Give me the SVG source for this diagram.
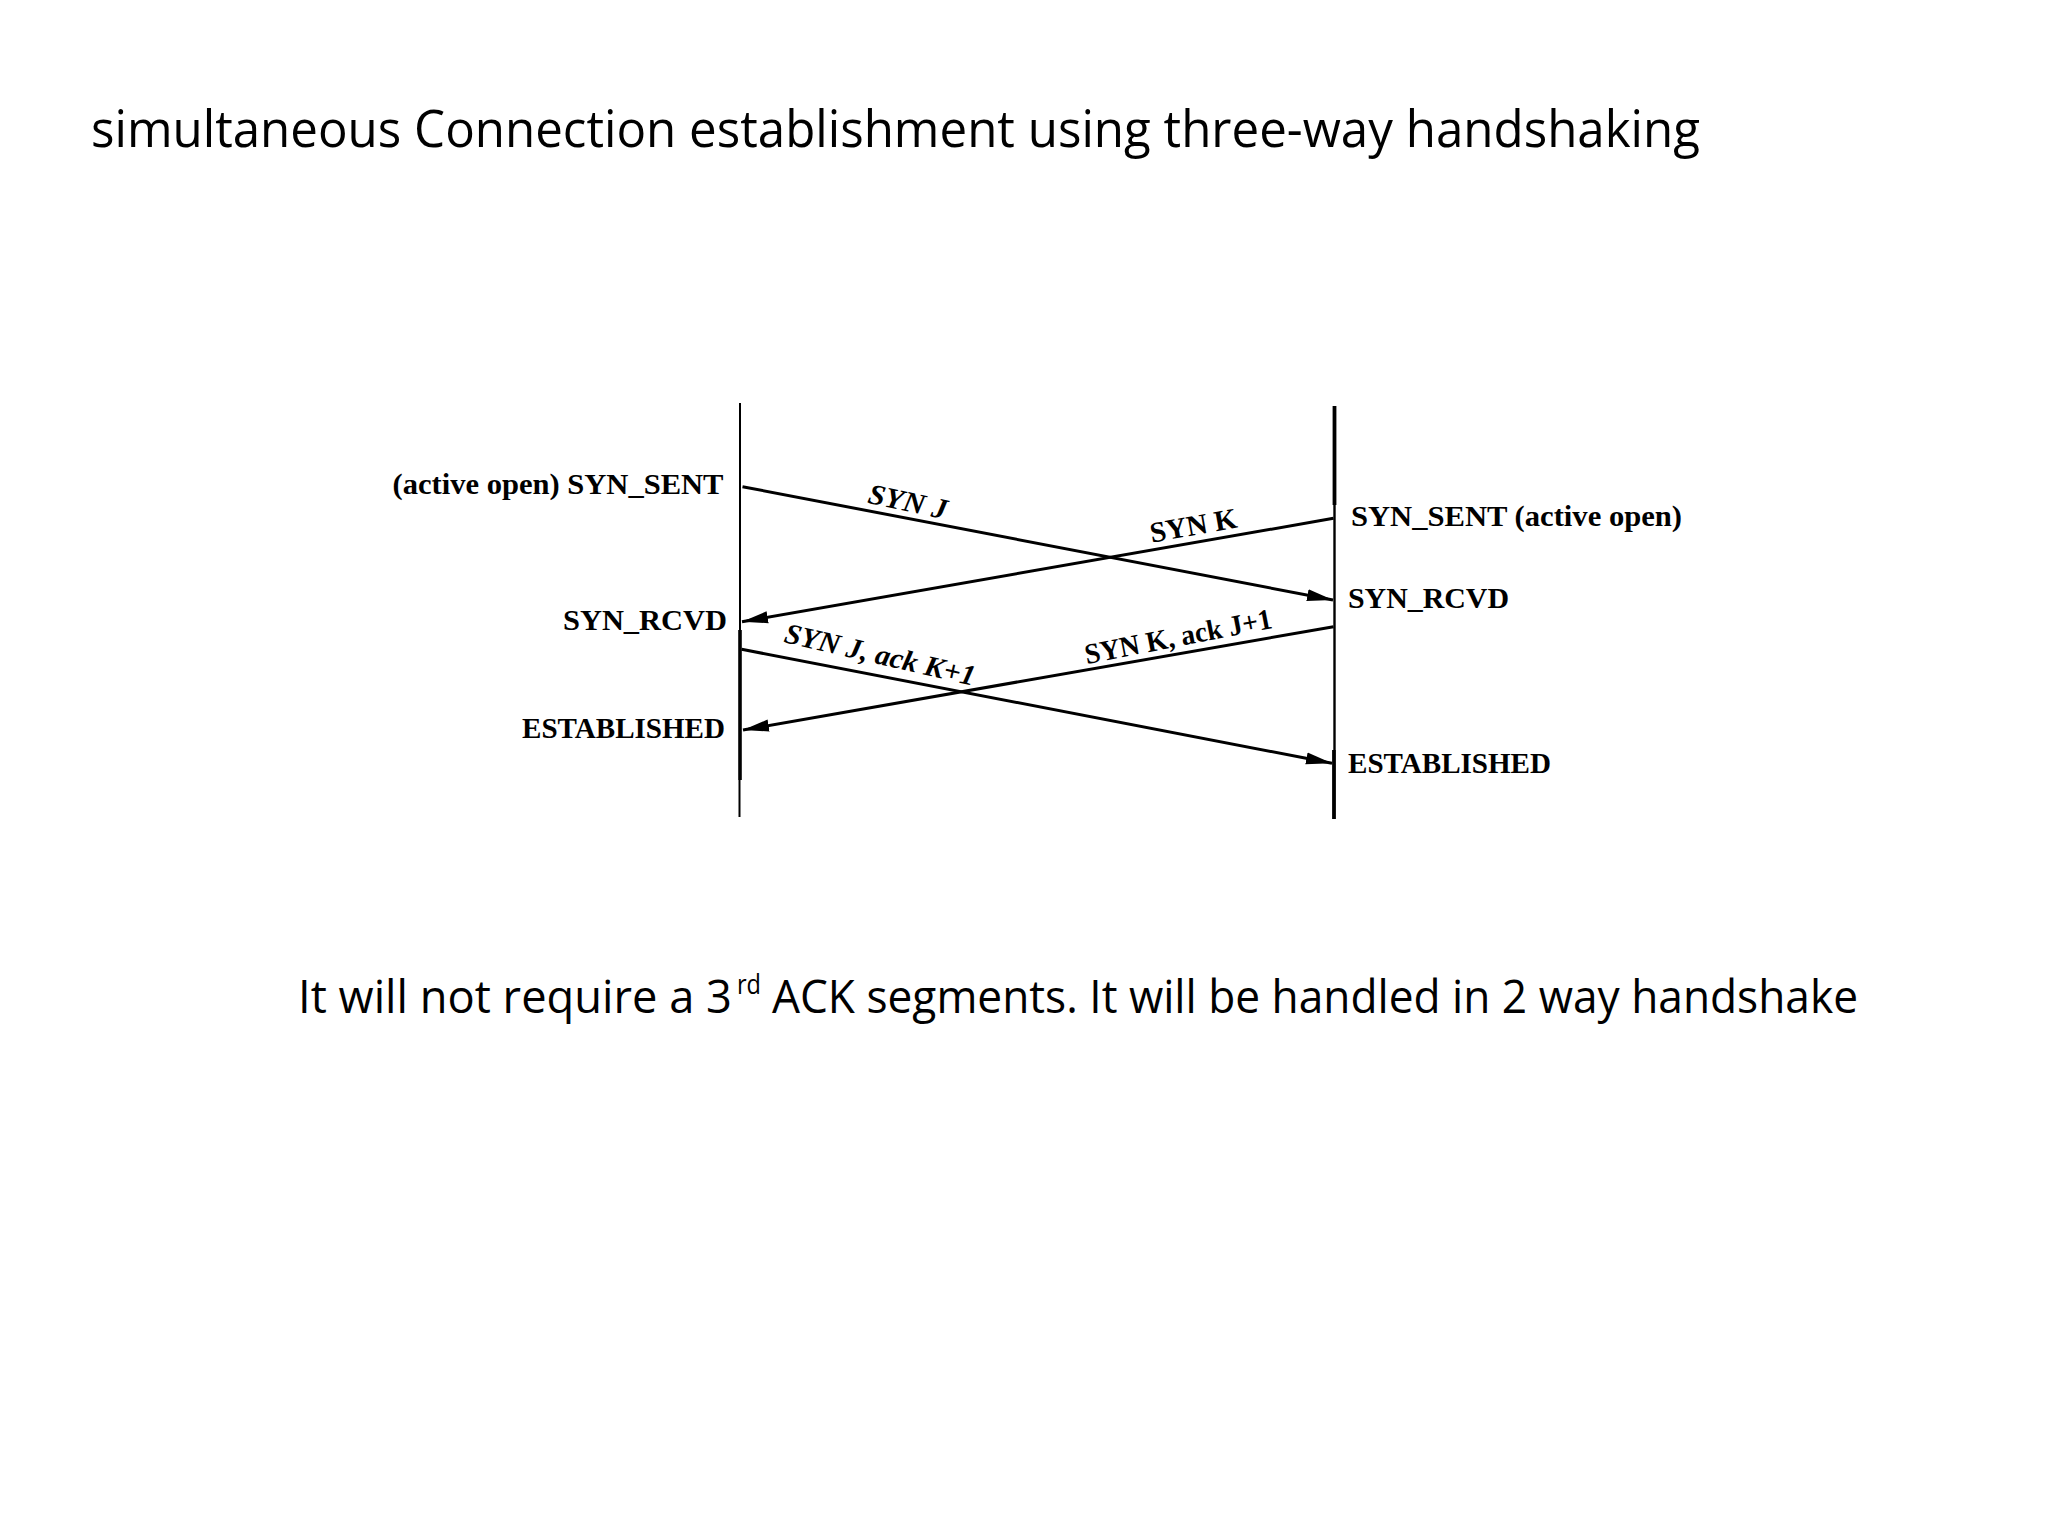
<svg xmlns="http://www.w3.org/2000/svg" width="2048" height="1536" viewBox="0 0 2048 1536">
<style>
.ttl{font-family:"Open Sans","Liberation Sans",sans-serif;font-size:52px;fill:#000}
.note{font-family:"Open Sans","Liberation Sans",sans-serif;font-size:45px;fill:#000}
.sup{font-family:"Open Sans","Liberation Sans",sans-serif;font-size:27px;fill:#000}
.st{font-family:"Liberation Serif","Times New Roman",serif;font-size:30px;font-weight:bold;fill:#000}
.lb{font-family:"Liberation Serif","Times New Roman",serif;font-size:29px;font-weight:bold;fill:#000}
.it{font-style:italic}
.msg{stroke:#000;stroke-width:3;fill:none}
.life{stroke:#000;fill:none}
</style>
<defs>
<marker id="ah" markerUnits="userSpaceOnUse" markerWidth="30" markerHeight="18" refX="26" refY="8" orient="auto">
<path d="M0,2 L26,8 L0,14 Z" fill="#000"/>
</marker>
</defs>
<rect width="2048" height="1536" fill="#fff"/>
<text class="ttl" x="91" y="147" textLength="1609" lengthAdjust="spacingAndGlyphs">simultaneous Connection establishment using three-way handshaking</text>

<g id="lifeline-left">
<line class="life" x1="740" y1="403" x2="740" y2="630" stroke-width="2"/>
<line class="life" x1="740" y1="630" x2="740" y2="780" stroke-width="3.6"/>
<line class="life" x1="739.5" y1="780" x2="739.5" y2="817" stroke-width="2"/>
</g>
<g id="lifeline-right">
<line class="life" x1="1334.5" y1="406" x2="1334.5" y2="505" stroke-width="3.8"/>
<line class="life" x1="1334.5" y1="505" x2="1334.5" y2="750" stroke-width="2.4"/>
<line class="life" x1="1334" y1="750" x2="1334" y2="819" stroke-width="3.8"/>
</g>

<g id="connectors">
<line class="msg" x1="742.5" y1="486.7" x2="1333" y2="600" marker-end="url(#ah)"/>
<line class="msg" x1="1333.5" y1="518.3" x2="742" y2="621.7" marker-end="url(#ah)"/>
<line class="msg" x1="1333.5" y1="626.7" x2="743" y2="730" marker-end="url(#ah)"/>
<line class="msg" x1="741.6" y1="649.3" x2="1332" y2="763.3" marker-end="url(#ah)"/>
</g>

<g id="msg-labels">
<text class="lb it" x="906" y="511" text-anchor="middle" transform="rotate(12 906 511)" textLength="80" lengthAdjust="spacingAndGlyphs">SYN J</text>
<text class="lb" x="1195" y="535" text-anchor="middle" transform="rotate(-10 1195 535)" textLength="88" lengthAdjust="spacingAndGlyphs">SYN K</text>
<text class="lb" x="1180" y="646" text-anchor="middle" transform="rotate(-11 1180 646)" textLength="190" lengthAdjust="spacingAndGlyphs">SYN K, ack J+1</text>
<text class="lb it" x="878" y="664" text-anchor="middle" transform="rotate(13 878 664)" textLength="195" lengthAdjust="spacingAndGlyphs">SYN J, ack K+1</text>
</g>

<g id="left-states">
<text class="st" x="392.5" y="494" textLength="331" lengthAdjust="spacingAndGlyphs">(active open) SYN_SENT</text>
<text class="st" x="563" y="630" textLength="164" lengthAdjust="spacingAndGlyphs">SYN_RCVD</text>
<text class="st" x="522" y="738" textLength="203" lengthAdjust="spacingAndGlyphs">ESTABLISHED</text>
</g>
<g id="right-states">
<text class="st" x="1351" y="526" textLength="331" lengthAdjust="spacingAndGlyphs">SYN_SENT (active open)</text>
<text class="st" x="1348" y="608" textLength="161" lengthAdjust="spacingAndGlyphs">SYN_RCVD</text>
<text class="st" x="1348" y="773" textLength="203" lengthAdjust="spacingAndGlyphs">ESTABLISHED</text>
</g>

<g id="note">
<text class="note" x="298" y="1013" textLength="434" lengthAdjust="spacingAndGlyphs">It will not require a 3</text>
<text class="sup" x="737" y="994" textLength="24" lengthAdjust="spacingAndGlyphs">rd</text>
<text class="note" x="772" y="1013" textLength="1086" lengthAdjust="spacingAndGlyphs">ACK segments. It will be handled in 2 way handshake</text>
</g>
</svg>
